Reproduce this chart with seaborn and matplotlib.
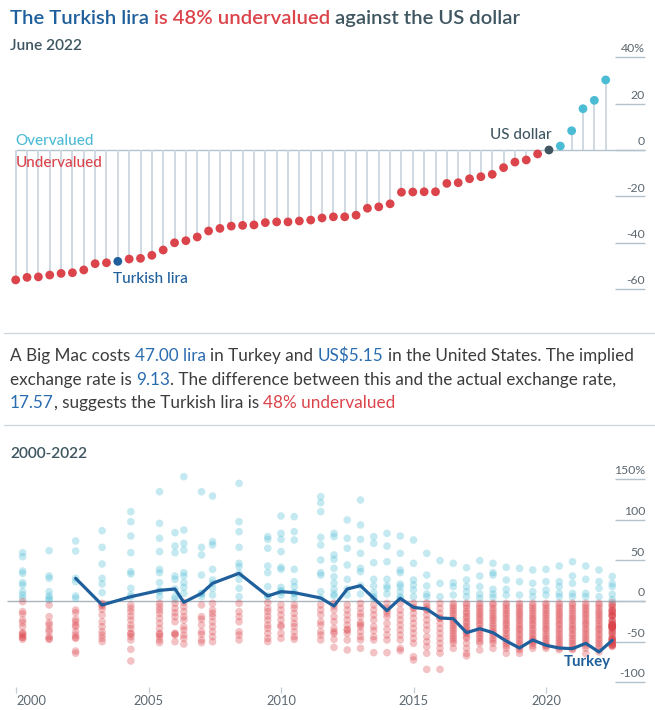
import matplotlib
matplotlib.use("Agg")
import matplotlib.pyplot as plt
from matplotlib.lines import Line2D
import seaborn as sns
import pandas as pd

# ---------------------------------------------------------------------------
# Data
# ---------------------------------------------------------------------------
# June 2022 valuation against the dollar, sorted low -> high, in %
june_vals = [-56.0, -54.9, -54.7, -53.9, -53.2, -52.9, -51.7, -49.0, -48.6, -48.0,
             -47.0, -46.7, -45.4, -43.1, -40.0, -39.1, -37.5, -34.9, -33.8, -32.8,
             -32.5, -32.3, -31.3, -31.0, -31.0, -30.6, -30.2, -29.3, -28.8, -28.8,
             -28.1, -25.1, -24.5, -23.2, -18.2, -18.1, -18.0, -18.0, -14.4, -14.1,
             -12.4, -11.5, -10.5, -7.6, -5.2, -4.3, -1.7, 0.0, 1.7, 8.3,
             17.8, 21.4, 30.2]
TURKEY_IDX = 9
US_IDX = 47
top_ticks = [40, 20, 0, -20, -40, -60]
top_tick_labels = ["40%", "20", "0", "-20", "-40", "-60"]

release_dates = ["2000-04", "2001-04", "2002-04", "2003-04", "2004-05", "2005-06",
                 "2006-01", "2006-05", "2007-01", "2007-06", "2008-06", "2009-07",
                 "2010-01", "2010-07", "2011-07", "2012-01", "2012-07", "2013-01",
                 "2013-07", "2014-01", "2014-07", "2015-01", "2015-07", "2016-01",
                 "2016-07", "2017-01", "2017-07", "2018-01", "2018-07", "2019-01",
                 "2019-07", "2020-01", "2020-07", "2021-01", "2021-07", "2022-01",
                 "2022-07"]

# all countries, one list per release
d2000_04 = [59.5, 54.6, 36.9, 34.0, 22.6, 19.7, 11.5, 7.4, 3.3, -0.8, -13.0, -16.0, -23.4, -26.7, -31.6, -39.0, -40.0, -41.9, -44.7, -45.0, -47.2]
d2001_04 = [62.0, 30.8, 27.9, 11.5, 6.2, 3.3, 1.2, -4.9, -19.3, -26.7, -29.6, -34.9, -37.8, -43.9, -46.5, -47.2]
d2002_04 = [73.9, 61.6, 28.0, 23.8, 6.2, 3.3, -11.1, -14.4, -22.6, -25.5, -29.6, -31.6, -37.8, -41.9, -45.0, -46.0, -61.6, -64.4]
d2003_04 = [86.6, 66.1, 45.6, 27.9, 20.9, 10.3, -2.9, -4.9, -6.2, -10.3, -17.2, -25.5, -31.6, -37.8, -41.9, -46.0, -50.1]
d2004_05 = [110.0, 97.7, 80.0, 59.5, 36.1, 33.3, 15.6, 7.4, 5.3, -4.9, -9.0, -13.1, -18.5, -23.4, -29.6, -33.7, -39.8, -40.5, -43.9, -48.0, -59.5, -73.9]
d2005_06 = [134.6, 95.6, 77.2, 60.8, 39.0, 34.9, 22.6, 13.1, 11.5, 5.3, -2.9, -7.0, -11.1, -15.2, -21.3, -27.5, -33.7, -39.8, -41.0, -43.9, -48.0, -51.3]
d2006_01 = [84.2, 67.7, 59.5, 30.8, 26.7, 14.8, 5.3, 2.1, -2.9, -9.0, -14.4, -19.3, -25.5, -39.8, -40.5, -41.9, -50.1]
d2006_05 = [153.1, 87.4, 71.0, 62.8, 34.9, 30.8, 22.6, 16.8, 9.4, -1.6, -7.0, -13.1, -19.3, -23.4, -31.6, -35.7, -41.9, -46.0, -53.0]
d2007_01 = [134.6, 66.1, 56.7, 32.0, 9.4, 9.0, 5.3, -4.9, -19.3, -22.6, -29.6, -37.8, -41.1, -48.0, -51.3]
d2007_06 = [129.3, 73.1, 69.0, 39.0, 25.9, 21.8, 15.6, 7.4, -2.9, -11.1, -15.2, -19.3, -25.5, -31.6, -37.8, -43.9, -50.1]
d2008_06 = [144.9, 97.7, 85.4, 66.1, 46.4, 42.3, 34.1, 26.7, 15.6, 5.3, -2.9, -13.1, -19.3, -25.5, -37.8, -41.9, -48.0]
d2009_07 = [79.2, 75.9, 64.9, 43.1, 34.9, 17.7, 6.2, 5.3, -2.0, -9.0, -13.1, -18.5, -23.4, -29.6, -33.7, -39.8, -46.0, -50.1]
d2010_01 = [104.7, 83.3, 75.9, 60.8, 41.5, 39.0, 16.8, 12.7, 11.5, 7.4, -4.9, -11.1, -17.2, -23.4, -29.6, -31.6, -39.8, -46.0]
d2010_07 = [103.9, 85.4, 75.1, 39.0, 23.8, 17.7, 10.3, 9.4, 4.5, -4.9, -9.0, -15.2, -21.3, -27.5, -31.6, -37.8, -43.9, -47.2]
d2011_07 = [128.5, 121.1, 110.0, 78.4, 69.0, 50.5, 34.9, 32.0, 11.5, 3.7, -4.9, -11.1, -17.2, -25.5, -29.6, -37.8, -41.9, -48.0]
d2012_01 = [83.3, 79.2, 56.7, 51.3, 40.2, 30.0, 21.8, 14.4, 8.6, 6.2, -2.9, -6.2, -11.1, -19.3, -25.5, -33.7, -37.8, -40.0, -47.2, -57.1]
d2012_07 = [99.8, 77.2, 64.9, 44.3, 26.7, 14.8, 7.4, -4.9, -11.1, -17.2, -23.4, -29.6, -34.9, -36.0, -39.8, -48.0, -60.3]
d2013_01 = [124.4, 93.6, 75.9, 58.7, 40.2, 36.1, 18.9, 8.6, -2.9, -9.0, -15.2, -19.3, -26.7, -29.0, -31.6, -37.8, -43.9, -48.0, -58.3]
d2013_07 = [79.2, 71.0, 47.2, 26.7, 18.5, 10.3, 5.3, 3.3, -4.9, -11.1, -17.2, -23.4, -31.6, -36.5, -43.9, -48.0, -63.6]
d2014_01 = [83.3, 67.7, 48.4, 26.7, 18.5, 15.6, 8.6, -2.9, -9.0, -11.9, -15.2, -19.3, -27.5, -34.9, -41.9, -48.0, -63.6]
d2014_07 = [80.0, 58.7, 38.2, 34.9, 20.9, 17.7, 11.5, 5.3, 3.3, -2.9, -11.1, -17.2, -23.4, -29.6, -35.7, -41.9, -48.0, -58.3, -61.2]
d2015_01 = [75.1, 46.4, 25.9, 19.7, 13.5, 5.3, -2.9, -7.8, -9.0, -15.2, -21.3, -27.5, -33.7, -39.8, -46.0, -52.1, -68.6, -72.7]
d2015_07 = [58.7, 32.0, 18.5, 8.6, 5.3, -2.9, -7.0, -9.9, -11.1, -17.2, -23.4, -29.6, -35.7, -43.9, -50.1, -56.2, -64.4, -84.2]
d2016_01 = [49.7, 21.8, 5.3, -2.9, -9.0, -15.2, -20.9, -21.3, -27.5, -33.7, -39.8, -46.0, -52.1, -58.3, -64.4, -84.2]
d2016_07 = [46.4, 22.6, 17.7, 7.4, -2.9, -6.0, -9.0, -12.0, -15.2, -18.0, -21.8, -24.5, -27.5, -30.5, -33.7, -36.5, -39.8, -43.0, -46.0, -49.0, -52.1, -58.3]
d2017_01 = [41.0, 25.9, 17.7, 11.5, 5.3, -2.9, -5.5, -9.0, -13.0, -15.2, -19.0, -21.3, -25.0, -27.5, -31.0, -33.7, -36.0, -39.0, -39.8, -44.0, -46.0, -52.1, -58.3, -64.4, -67.7]
d2017_07 = [49.7, 30.8, 17.7, 8.6, 3.3, -2.9, -6.0, -9.0, -12.5, -15.2, -18.0, -21.3, -24.0, -27.5, -30.0, -34.1, -36.5, -39.8, -43.0, -46.0, -49.5, -52.1, -60.3]
d2018_01 = [46.4, 34.9, 32.0, 14.4, 8.6, 4.5, -2.9, -5.0, -9.0, -12.0, -15.2, -18.5, -21.3, -24.0, -27.5, -30.5, -33.7, -37.0, -39.0, -42.0, -46.0, -49.0, -52.1, -58.3]
d2018_07 = [41.5, 25.9, 14.4, 7.4, -2.9, -5.5, -9.0, -12.0, -15.2, -18.0, -21.3, -24.5, -27.5, -30.0, -33.7, -36.0, -39.8, -43.0, -46.0, -49.3, -52.1, -55.0, -58.3, -64.4]
d2019_01 = [40.2, 23.8, 7.4, -2.9, -6.0, -9.0, -12.5, -15.2, -18.0, -21.3, -24.0, -27.5, -30.5, -33.7, -36.0, -39.8, -42.5, -46.0, -49.0, -52.1, -55.0, -57.9, -60.0, -64.4]
d2019_07 = [38.2, 21.8, 11.5, 5.3, -2.9, -6.0, -9.0, -12.0, -15.2, -18.5, -21.3, -24.0, -27.5, -30.0, -33.7, -36.5, -39.8, -42.5, -46.0, -48.0, -50.0, -52.1, -55.0, -58.3]
d2020_01 = [39.0, 23.8, 13.5, 7.4, -2.9, -5.5, -9.0, -12.0, -15.2, -18.0, -21.3, -24.5, -27.5, -30.5, -33.7, -36.0, -39.8, -43.0, -46.0, -49.0, -52.1, -54.6, -56.0, -58.3]
d2020_07 = [43.1, 23.8, 17.7, 9.4, 5.3, -2.9, -6.0, -9.0, -12.5, -15.2, -18.0, -21.3, -24.0, -27.5, -30.0, -33.7, -36.5, -39.8, -43.0, -46.0, -49.0, -52.1, -55.0, -57.9, -60.0]
d2021_01 = [48.4, 30.8, 21.8, 9.4, 5.3, -2.9, -5.5, -9.0, -12.0, -15.2, -18.5, -21.3, -24.0, -27.5, -30.5, -33.7, -36.0, -39.8, -42.5, -46.0, -49.0, -52.1, -55.0, -58.7, -60.0]
d2021_07 = [43.1, 26.7, 9.4, 5.3, -2.9, -6.0, -9.0, -12.0, -15.2, -18.0, -21.3, -24.5, -27.5, -30.0, -33.7, -36.5, -39.8, -43.0, -46.0, -49.0, -52.1, -55.0, -58.3, -65.0]
d2022_01 = [38.2, 23.8, 15.6, 5.3, -2.9, -5.5, -9.0, -12.5, -15.2, -18.0, -21.3, -24.0, -27.5, -30.5, -33.7, -36.0, -39.8, -42.5, -46.0, -49.0, -52.1, -55.0, -58.3, -62.8]
d2022_07 = [v for i, v in enumerate(june_vals) if i != US_IDX]

# Turkey, from April 2002 onwards
turkey_dates = release_dates[2:]
turkey_vals = [28.0, -4.9, 5.3, 13.1, 14.8, -1.6, 9.4, 21.8, 34.1, 6.2, 11.5, 10.3,
               3.7, -6.2, 14.8, 18.9, 3.3, -11.9, 3.3, -7.8, -9.9, -20.9, -21.8,
               -39.0, -34.1, -39.0, -49.3, -57.9, -48.0, -54.6, -57.9, -58.7, -52.1,
               -62.8, -48.4]

bottom_ticks = [150, 100, 50, 0, -50, -100]
bottom_tick_labels = ["150%", "100", "50", "0", "-50", "-100"]
year_ticks = [2000, 2005, 2010, 2015, 2020]

# ---------------------------------------------------------------------------
# Style
# ---------------------------------------------------------------------------
RED = "#db444b"
SKY = "#4cbcd4"
NAVY = "#1f5f9c"
BLUE_TXT = "#2a6cb0"
SLATE = "#3f5661"
TXT = "#3c3c3c"
TICK = "#5c6770"
STEM = "#cdd7df"
RULE = "#b4c2cc"

W, H = 655, 710
sns.set_theme(style="white")
plt.rcParams["font.family"] = ["Lato", "DejaVu Sans"]

fig = plt.figure(figsize=(W / 100, H / 100), dpi=100)
renderer = fig.canvas.get_renderer()


def px_axes(left, top, right, bottom):
    return fig.add_axes([left / W, 1 - bottom / H, (right - left) / W, (bottom - top) / H])


def rich_text(x, y, parts, size, weight="normal"):
    """Write differently coloured pieces one after another on a baseline (pixels)."""
    probe = fig.text(0, 0, "x x", fontsize=size, weight=weight)
    w1 = probe.get_window_extent(renderer).width
    probe.set_text("xx")
    w2 = probe.get_window_extent(renderer).width
    probe.remove()
    space = w1 - w2
    cx = x
    for s, c in parts:
        lead = len(s) - len(s.lstrip(" "))
        trail = len(s) - len(s.rstrip(" "))
        cx += lead * space
        t = fig.text(cx / W, 1 - y / H, s.strip(" "), color=c, fontsize=size,
                     weight=weight, ha="left", va="baseline")
        cx += t.get_window_extent(renderer).width + trail * space


# ---------------------------------------------------------------------------
# Header
# ---------------------------------------------------------------------------
rich_text(10, 24, [("The Turkish lira ", NAVY), ("is 48% undervalued ", RED),
                   ("against the US dollar", SLATE)], 14.6, weight="semibold")
fig.text(10 / W, 1 - 50 / H, "June 2022", fontsize=11.2, weight="semibold",
         color=SLATE, va="baseline")

# ---------------------------------------------------------------------------
# Top: lollipop chart
# ---------------------------------------------------------------------------
ax = px_axes(0, 40, W, 300)
x0, dx = 15.7, 11.346
ax.set_xlim((0 - x0) / dx, (W - x0) / dx)
ax.set_ylim(-(300 - 150) / 2.32, (150 - 40) / 2.32)
ax.axis("off")

june = pd.DataFrame({"pos": range(len(june_vals)), "val": june_vals})
june["group"] = ["over" if v > 0 else "under" for v in june_vals]
june.loc[TURKEY_IDX, "group"] = "turkey"
june.loc[US_IDX, "group"] = "us"

tick_x0, tick_x1 = (615 - x0) / dx, (645 - x0) / dx
ax.vlines(june["pos"], 0, june["val"], color=STEM, lw=1.3, zorder=1)
ax.hlines(0, 0, tick_x1, color=RULE, lw=1.0, zorder=0.5)
for v, lab in zip(top_ticks, top_tick_labels):
    ax.hlines(v, tick_x0, tick_x1, color=RULE, lw=1.0)
    ax.text(tick_x1, v + 1.2, lab, ha="right", va="bottom", fontsize=8.8, color=TICK)

sns.scatterplot(data=june, x="pos", y="val", hue="group",
                palette={"under": RED, "over": SKY, "turkey": NAVY, "us": SLATE},
                s=40, linewidth=0, legend=False, zorder=3, ax=ax)

ax.text(0, 3.8, "Overvalued", color=SKY, fontsize=11, weight="medium", va="center")
ax.text(0, -5.8, "Undervalued", color=RED, fontsize=11, weight="medium", va="center")
ax.annotate("Turkish lira", (TURKEY_IDX, june_vals[TURKEY_IDX]), xytext=(-3.6, -12.5),
            textcoords="offset points", color=NAVY, fontsize=11, weight="medium",
            ha="left", va="center")
ax.annotate("US dollar", (US_IDX, june_vals[US_IDX]), xytext=(2, 10.5),
            textcoords="offset points", color=SLATE, fontsize=11, weight="medium",
            ha="right", va="center")

# ---------------------------------------------------------------------------
# Middle: explanation text between two rules
# ---------------------------------------------------------------------------
for yy in (333, 425):
    fig.add_artist(Line2D([4 / W, 1], [1 - yy / H] * 2, color=STEM, lw=1.0))

PARA = 12.3
rich_text(10, 361, [("A Big Mac costs ", TXT), ("47.00 lira", BLUE_TXT), (" in Turkey and ", TXT),
                    ("US\\$5.15", BLUE_TXT), (" in the United States. The implied", TXT)], PARA)
rich_text(10, 385, [("exchange rate is ", TXT), ("9.13", BLUE_TXT),
                    (". The difference between this and the actual exchange rate,", TXT)], PARA)
rich_text(10, 408, [("17.57", BLUE_TXT), (", suggests the Turkish lira is ", TXT),
                    ("48% undervalued", RED)], PARA)

fig.text(10 / W, 1 - 458 / H, "2000-2022", fontsize=11.2, weight="semibold",
         color=SLATE, va="baseline")

# ---------------------------------------------------------------------------
# Bottom: history of all currencies plus Turkey
# ---------------------------------------------------------------------------
history = [d2000_04, d2001_04, d2002_04, d2003_04, d2004_05, d2005_06, d2006_01,
           d2006_05, d2007_01, d2007_06, d2008_06, d2009_07, d2010_01, d2010_07,
           d2011_07, d2012_01, d2012_07, d2013_01, d2013_07, d2014_01, d2014_07,
           d2015_01, d2015_07, d2016_01, d2016_07, d2017_01, d2017_07, d2018_01,
           d2018_07, d2019_01, d2019_07, d2020_01, d2020_07, d2021_01, d2021_07,
           d2022_01, d2022_07]


def dec_year(d):
    return int(d[:4]) + (int(d[5:]) - 1) / 12


rows = [(dec_year(d), v) for d, vals in zip(release_dates, history) for v in vals]
hist = pd.DataFrame(rows, columns=["year", "val"])
hist["side"] = ["over" if v > 0 else "under" for v in hist["val"]]
turkey = pd.DataFrame({"year": [dec_year(d) for d in turkey_dates], "val": turkey_vals})

bx = px_axes(0, 462, W, 687)
yr0, dyr = 16, 26.5
bx.set_xlim(2000 + (0 - yr0) / dyr, 2000 + (W - yr0) / dyr)
bx.set_ylim((601 - 687) / 0.812, (601 - 462) / 0.812)

ytick_x0 = 2000 + (615 - yr0) / dyr
ytick_x1 = 2000 + (645 - yr0) / dyr
bx.hlines(0, 2000 + (7 - yr0) / dyr, ytick_x1, color="#a9b5be", lw=1.0, zorder=0.5)
for v, lab in zip(bottom_ticks, bottom_tick_labels):
    bx.hlines(v, ytick_x0, ytick_x1, color=RULE, lw=1.0)
    bx.text(ytick_x1, v + 3.5, lab, ha="right", va="bottom", fontsize=8.8, color=TICK)

sns.scatterplot(data=hist, x="year", y="val", hue="side",
                palette={"over": SKY, "under": RED}, s=30, alpha=0.32,
                linewidth=0, legend=False, zorder=2, ax=bx)
sns.lineplot(data=turkey, x="year", y="val", color=NAVY, lw=2.3, zorder=4, ax=bx)
bx.annotate("Turkey", (turkey["year"].iloc[-1], turkey["val"].iloc[-1]),
            xytext=(-1, -15.5), textcoords="offset points", color=NAVY,
            fontsize=10.8, weight="bold", ha="right", va="center")

sns.despine(ax=bx, left=True, bottom=True)
bx.set_xlabel("")
bx.set_ylabel("")
bx.set_yticks([])
bx.set_xticks(year_ticks)
bx.set_xticklabels([str(y) for y in year_ticks])
bx.get_xticklabels()[0].set_horizontalalignment("left")
bx.tick_params(axis="x", length=4, width=0.9, color="#c3ccd3", labelsize=9.3,
               labelcolor=TICK, pad=2, bottom=True)

fig.savefig("out.png", dpi=100)
